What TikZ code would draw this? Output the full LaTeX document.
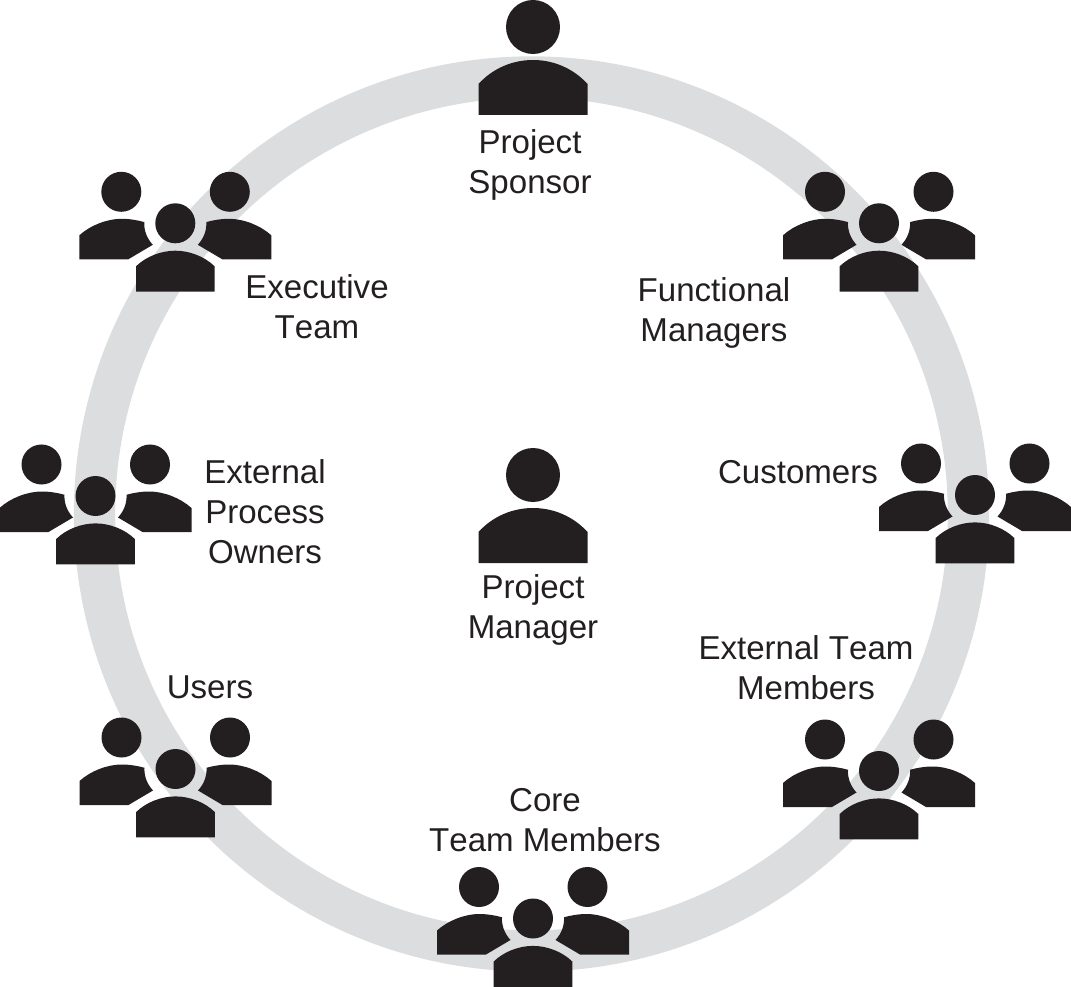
\documentclass[tikz,border=0pt]{standalone}
\usepackage{fontspec}
\setmainfont[Kerning=Off]{Liberation Sans}
\definecolor{inkc}{HTML}{231F20}
\definecolor{ringc}{HTML}{DCDDDE}
\tikzset{
  x=0.75pt,y=-0.75pt,
  ringshape/.style={circle,draw=ringc,line width=31pt,minimum size=655.5pt,inner sep=0pt,outer sep=0pt},
  lbl/.style={align=center,font=\fontsize{24.8pt}{30pt}\selectfont,text=inkc,inner sep=0pt},
  solo/.pic={
    \fill[inkc] (0,0) circle[radius=27];
    \fill[inkc] (-54.5,88) -- (-54.5,57) .. controls (-40,41) and (-20,33) .. (0,33)
       .. controls (20,33) and (40,41) .. (54.5,57) -- (54.5,88) -- cycle;
  },
  trio/.pic={
    \fill[inkc] (0,0) circle[radius=20];
    \fill[inkc] (-54,-31.5) circle[radius=20];
    \fill[inkc] (54.5,-31.5) circle[radius=20];
    \fill[inkc] (-39.3,68.4) -- (-39.3,43) .. controls (-29,33) and (-14,27.4) .. (0,27.4)
       .. controls (14,27.4) and (29,33) .. (39.3,43) -- (39.3,68.4) -- cycle;
    \fill[inkc] (-96,36) -- (-96,12) .. controls (-85,2) and (-68,-4.5) .. (-54,-4.5)
       .. controls (-46,-4.5) and (-38,-3.2) .. (-31,-1.2)
       .. controls (-31.5,7) and (-28.5,15) .. (-22.5,21.5) -- (-47,36) -- cycle;
    \fill[inkc] (96,36) -- (96,12) .. controls (85,2) and (68,-4.5) .. (54,-4.5)
       .. controls (46,-4.5) and (38,-3.2) .. (31,-1.2)
       .. controls (31.5,7) and (28.5,15) .. (22.5,21.5) -- (47,36) -- cycle;
  }
}
\begin{document}
\begin{tikzpicture}
\useasboundingbox (0,0) rectangle (1071,987);
\node[ringshape] (ring) at (531.5,514) {};
\pic at (533,27) {solo};
\pic at (533,475) {solo};
\pic at (175.3,223.3) {trio};
\pic at (879,223.3) {trio};
\pic at (95.5,496) {trio};
\pic at (975,495) {trio};
\pic at (175.5,769) {trio};
\pic at (879,771) {trio};
\pic at (533,918.5) {trio};
\node[lbl] (sponsor) at (530,165) {Project\\Sponsor};
\node[lbl] (manager) at (533,610) {Project\\Manager};
\node[lbl] (exec) at (317,307) {Executive\\Team};
\node[lbl] (func) at (714,313) {Functional\\Managers};
\node[lbl] (proc) at (265,512) {External\\Process\\Owners};
\node[lbl] (cust) at (798,472) {Customers};
\node[lbl] (users) at (210,687) {Users};
\node[lbl] (extteam) at (806,668) {External Team\\Members};
\node[lbl] (core) at (545,820) {Core\\Team Members};
\end{tikzpicture}
\end{document}
